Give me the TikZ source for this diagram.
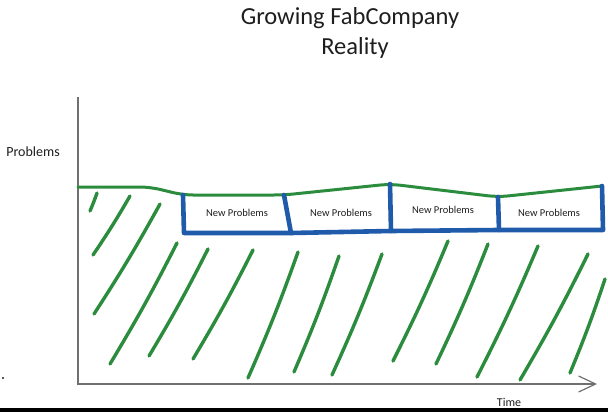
\documentclass[tikz,border=0pt]{standalone}
\usepackage{fontspec}
\setmainfont{Carlito}
\usepackage{tikz}
\usetikzlibrary{arrows.meta, positioning}
\definecolor{penGreen}{HTML}{2B8C3E}
\definecolor{penBlue}{HTML}{1F5BAA}
\definecolor{ink}{HTML}{1E1E1E}
\definecolor{axisGray}{HTML}{707070}
\tikzstyle{sketchtext} = [text=ink, inner sep=0pt, font=\fontsize{10.5}{12}\selectfont]
\tikzstyle{hatch} = [draw=penGreen, line width=3.4pt, line cap=round]
\tikzstyle{frame} = [draw=penBlue, line width=4.6pt, line cap=round, line join=round]
\tikzstyle{axis} = [draw=axisGray, line width=1.2pt]

\begin{document}
\begin{tikzpicture}[x=1pt, y=-1pt]
        \useasboundingbox (0,0) rectangle (608,412);

        % Title
        \node[sketchtext, font=\fontsize{24.5}{28}\selectfont] (title) at (350,18)
            {Growing FabCompany};
        \node[sketchtext, font=\fontsize{24.5}{28}\selectfont] (reality) at (355,48)
            {Reality};

        % Axes
        \coordinate (ytop) at (78,97);
        \coordinate (origin) at (78,384);
        \coordinate (xend) at (597,384);
        \draw[axis, -{Straight Barb[length=17pt, width=16pt]}]
            (ytop) -- (origin) -- (xend);
        \node[sketchtext, font=\fontsize{14}{16}\selectfont] (yname) at (33,152) {Problems};
        \node[sketchtext, font=\fontsize{12}{14}\selectfont] (xname) at (509,402) {Time};
        \fill[ink] (3,378) circle (1.2pt);

        % Hatching under the problem line
        \foreach \xa/\ya/\xb/\yb in {97/193/90/211, 130/196/93/255, 160/204/94/314,
            177/243/110/364, 208/249/149/356, 253/250/193/359, 298/252/248/378,
            339/256/294/372, 382/254/332/375, 448/241/393/361, 488/244/436/364,
            538/246/477/377, 588/254/520/380, 605/279/570/373}
            \draw[hatch] (\xa,\ya) to[bend left=2] (\xb,\yb);

        % Problem level
        \coordinate (b1tl) at (183,195);
        \coordinate (b1bl) at (184,233);
        \coordinate (b1tr) at (284,195);
        \coordinate (b1br) at (291,233);
        \coordinate (b2tr) at (390,184);
        \coordinate (b2br) at (391,231);
        \coordinate (b3tr) at (498,197);
        \coordinate (b3br) at (499,230);
        \coordinate (b4tr) at (602,186);
        \coordinate (b4br) at (603,230);
        \draw[penGreen, line width=3pt, line cap=round, rounded corners=10pt]
            (origin |- 0,187) -- (150,187) -- (b1tl) -- (b1tr) -- (b2tr)
            -- (b3tr) -- (b4tr);

        % New problems
        \draw[frame] (b1tl) -- (b1bl) -- (b1br) -- (b2br) -- (b3br) -- (b4br) -- (b4tr);
        \draw[frame] (b1tr) -- (b1br);
        \draw[frame] (b2tr) -- (b2br);
        \draw[frame] (b3tr) -- (b3br);
        \node[sketchtext] (np1) at (237,213) {New Problems};
        \node[sketchtext] (np2) at (341,213) {New Problems};
        \node[sketchtext] (np3) at (443,210) {New Problems};
        \node[sketchtext] (np4) at (549,213) {New Problems};

        % Screen edge
        \fill[black] (0,408) rectangle (608,412);
    \end{tikzpicture}
\end{document}
